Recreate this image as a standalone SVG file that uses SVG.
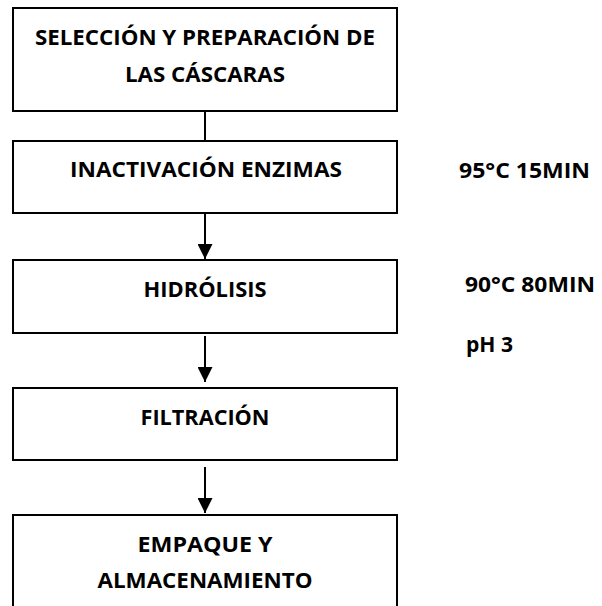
<svg xmlns="http://www.w3.org/2000/svg" width="602" height="606" viewBox="0 0 602 606">
<style>
.box{fill:#fff;stroke:#000;stroke-width:2}
.t{font-family:"Open Sans","Liberation Sans",sans-serif;font-weight:bold;font-size:21px;fill:#000;text-anchor:middle}
.n{font-family:"Open Sans","Liberation Sans",sans-serif;font-weight:bold;font-size:21px;fill:#000}
.c{stroke:#000;stroke-width:2;fill:none}
</style>
<defs>
<marker id="ah" markerUnits="userSpaceOnUse" markerWidth="16" markerHeight="15" refX="15" refY="7.5" orient="auto">
<path d="M0,0 L15,7.5 L0,15 Z" fill="#000"/>
</marker>
</defs>
<rect width="602" height="606" fill="#fff"/>
<g id="connectors">
<line class="c" x1="205" y1="111" x2="205" y2="141"/>
<line class="c" x1="205" y1="213" x2="205" y2="259" marker-end="url(#ah)"/>
<line class="c" x1="205" y1="336" x2="205" y2="382" marker-end="url(#ah)"/>
<line class="c" x1="205" y1="467" x2="205" y2="513" marker-end="url(#ah)"/>
</g>
<g id="n1">
<rect class="box" x="13" y="8" width="384" height="103"/>
<text class="t" x="205" y="45" textLength="340" lengthAdjust="spacingAndGlyphs">SELECCIÓN Y PREPARACIÓN DE</text>
<text class="t" x="205" y="82" textLength="160" lengthAdjust="spacingAndGlyphs">LAS CÁSCARAS</text>
</g>
<g id="n2">
<rect class="box" x="13" y="141" width="384" height="72"/>
<text class="t" x="206" y="177" textLength="272" lengthAdjust="spacingAndGlyphs">INACTIVACIÓN ENZIMAS</text>
</g>
<g id="n3">
<rect class="box" x="13" y="260" width="384" height="73"/>
<text class="t" x="205" y="297" textLength="123" lengthAdjust="spacingAndGlyphs">HIDRÓLISIS</text>
</g>
<g id="n4">
<rect class="box" x="13" y="388" width="384" height="72"/>
<text class="t" x="205" y="425" textLength="129" lengthAdjust="spacingAndGlyphs">FILTRACIÓN</text>
</g>
<g id="n5">
<rect class="box" x="13" y="515" width="384" height="110"/>
<text class="t" x="205" y="552" textLength="135" lengthAdjust="spacingAndGlyphs">EMPAQUE Y</text>
<text class="t" x="205" y="588" textLength="215" lengthAdjust="spacingAndGlyphs">ALMACENAMIENTO</text>
</g>
<g id="notes">
<text class="n" x="459" y="178" textLength="131" lengthAdjust="spacingAndGlyphs">95°C 15MIN</text>
<text class="n" x="465" y="292" textLength="130" lengthAdjust="spacingAndGlyphs">90°C 80MIN</text>
<text class="n" x="466" y="352" textLength="47" lengthAdjust="spacingAndGlyphs">pH 3</text>
</g>
</svg>
